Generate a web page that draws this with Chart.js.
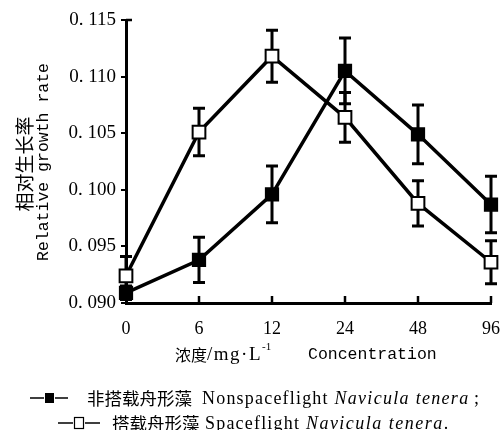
<!DOCTYPE html>
<html>
<head>
<meta charset="utf-8">
<script src="https://cdn.jsdelivr.net/npm/chart.js@4.4.1/dist/chart.umd.min.js"></script>
<style>
  html, body { margin: 0; padding: 0; background: #fff; }
  #wrap { width: 503px; height: 430px; }
</style>
</head>
<body>
<div id="wrap"><canvas id="chart" width="503" height="430"></canvas></div>
<script>
// concentration groups (mg/L)
const labels = ['0', '6', '12', '24', '48', '96'];
// non-spaceflight Navicula tenera (filled squares)
const nonspaceflight = [0.0909, 0.0938, 0.0996, 0.1105, 0.1049, 0.0987];
const nonspaceflightErr = [0.0006, 0.0020, 0.0025, 0.0029, 0.0026, 0.0025];
// spaceflight Navicula tenera (open squares)
const spaceflight = [0.0924, 0.1051, 0.1118, 0.1064, 0.0988, 0.0936];
const spaceflightErr = [0.0017, 0.0021, 0.0023, 0.0022, 0.0020, 0.0019];
const yTicks = [0.090, 0.095, 0.100, 0.105, 0.110, 0.115];

const serif = '"Liberation Serif", "Times New Roman", serif';
const mono = '"Liberation Mono", "Courier New", monospace';
const cjk = '"Noto Sans CJK SC", sans-serif';

// error bars under the lines and markers
const errorBars = {
    id: 'errorBars',
    beforeDatasetsDraw(chart) {
        const ctx = chart.ctx;
        const y = chart.scales.y;
        chart.data.datasets.forEach(function (ds, i) {
            const meta = chart.getDatasetMeta(i);
            meta.data.forEach(function (pt, j) {
                const top = y.getPixelForValue(ds.data[j] + ds.errors[j]);
                const bot = y.getPixelForValue(ds.data[j] - ds.errors[j]);
                ctx.save();
                ctx.strokeStyle = '#000';
                ctx.lineWidth = 3;
                ctx.beginPath();
                ctx.moveTo(pt.x, top); ctx.lineTo(pt.x, bot);
                ctx.moveTo(pt.x - 6, top); ctx.lineTo(pt.x + 6, top);
                ctx.moveTo(pt.x - 6, bot); ctx.lineTo(pt.x + 6, bot);
                ctx.stroke();
                ctx.restore();
            });
        });
    }
};

function runs(ctx, x, y, parts) {
    parts.forEach(function (p) {
        ctx.font = p[1];
        ctx.letterSpacing = (p[2] || 0) + 'px';
        ctx.fillText(p[0], x, y);
        x += ctx.measureText(p[0]).width;
    });
    ctx.letterSpacing = '0px';
    return x;
}

// axis titles, inward x ticks and the legend
const extras = {
    id: 'extras',
    afterDraw(chart) {
        const ctx = chart.ctx;
        const area = chart.chartArea;
        const x = chart.scales.x;
        ctx.save();
        ctx.strokeStyle = '#000';
        ctx.lineWidth = 2.5;
        ctx.beginPath();
        labels.forEach(function (l, i) {
            if (i === 0) return;
            const px = x.getPixelForTick(i);
            ctx.moveTo(px, area.bottom);
            ctx.lineTo(px, area.bottom - 7);
        });
        ctx.moveTo(area.left, area.top);
        ctx.lineTo(area.left + 6, area.top);
        ctx.stroke();

        ctx.fillStyle = '#000';
        ctx.textBaseline = 'middle';

        // y title
        ctx.save();
        ctx.translate(25, 164);
        ctx.rotate(-Math.PI / 2);
        ctx.textAlign = 'center';
        ctx.font = '19px ' + cjk;
        ctx.fillText('相对生长率', 0, 0);
        ctx.restore();
        ctx.save();
        ctx.translate(44, 162);
        ctx.rotate(-Math.PI / 2);
        ctx.textAlign = 'center';
        ctx.font = '16.5px ' + mono;
        ctx.fillText('Relative growth rate', 0, 0);
        ctx.restore();

        // x title
        ctx.textAlign = 'left';
        let cx = runs(ctx, 175, 355, [['浓度', '16px ' + cjk], ['/mg·L', '19px ' + serif, 1.5]]);
        ctx.font = '11px ' + serif;
        ctx.fillText('-1', cx, 347);
        ctx.font = '16.5px ' + mono;
        ctx.fillText('Concentration', 308, 355);

        // legend
        ctx.lineWidth = 1.5;
        ctx.beginPath();
        ctx.moveTo(30, 398); ctx.lineTo(44, 398);
        ctx.moveTo(55, 398); ctx.lineTo(68, 398);
        ctx.moveTo(58, 423); ctx.lineTo(73, 423);
        ctx.moveTo(85, 423); ctx.lineTo(100, 423);
        ctx.stroke();
        ctx.fillRect(45, 393, 9, 10);
        ctx.lineWidth = 1.2;
        ctx.strokeRect(74.5, 417.5, 9, 11);

        runs(ctx, 87, 398, [['非搭载舟形藻', '17.5px ' + cjk]]);
        runs(ctx, 202, 399, [['Nonspaceflight ', '18px ' + serif, 1.2],
            ['Navicula tenera', 'italic 18px ' + serif, 1.3], [' ;', '18px ' + serif]]);
        runs(ctx, 112, 423, [['搭载舟形藻', '17.5px ' + cjk]]);
        runs(ctx, 205, 424, [['Spaceflight ', '18px ' + serif, 1.2],
            ['Navicula tenera', 'italic 18px ' + serif, 1.5], ['.', '18px ' + serif]]);
        ctx.restore();
    }
};

new Chart(document.getElementById('chart'), {
    type: 'line',
    data: {
        labels: labels,
        datasets: [
            {
                label: 'Nonspaceflight Navicula tenera',
                data: nonspaceflight,
                errors: nonspaceflightErr,
                borderColor: '#000',
                borderWidth: 3.5,
                pointStyle: 'rect',
                pointRadius: 9,
                pointBackgroundColor: '#000',
                pointBorderColor: '#000',
                pointBorderWidth: 1.5,
                tension: 0,
                clip: false
            },
            {
                label: 'Spaceflight Navicula tenera',
                data: spaceflight,
                errors: spaceflightErr,
                borderColor: '#000',
                borderWidth: 3.5,
                pointStyle: 'rect',
                pointRadius: 9,
                pointBackgroundColor: '#fff',
                pointBorderColor: '#000',
                pointBorderWidth: 2,
                tension: 0,
                clip: false
            }
        ]
    },
    options: {
        responsive: false,
        animation: false,
        layout: { padding: { top: 20, right: 0, left: 0, bottom: 0 } },
        plugins: { legend: { display: false }, tooltip: { enabled: false } },
        scales: {
            x: {
                offset: false,
                grid: { display: false },
                border: { color: '#000', width: 3 },
                ticks: { color: '#000', font: { family: serif, size: 18 }, padding: 7, maxRotation: 0, autoSkip: false },
                afterFit: function (s) { s.height = 127; s.paddingRight = 12; s.paddingLeft = 0; }
            },
            y: {
                min: 0.09,
                max: 0.115,
                afterBuildTicks: function (s) { s.ticks = yTicks.map(function (v) { return { value: v }; }); },
                grid: { drawOnChartArea: false, tickLength: 5, color: '#000', lineWidth: 2 },
                border: { color: '#000', width: 3 },
                ticks: {
                    color: '#000', font: { family: serif, size: 19 }, padding: 5,
                    callback: function (v) { return v.toFixed(3).replace('.', '. '); }
                },
                afterFit: function (s) { s.width = 126; }
            }
        }
    },
    plugins: [errorBars, extras]
});
</script>
</body>
</html>
